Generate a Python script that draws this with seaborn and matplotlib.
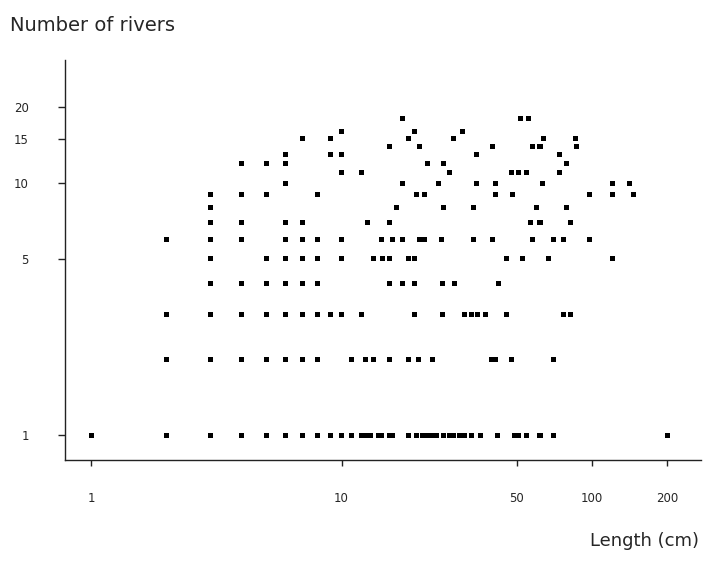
import pandas as pd
import matplotlib
matplotlib.use("Agg")
import matplotlib.pyplot as plt
from matplotlib.ticker import FixedLocator, NullLocator
import seaborn as sns

# lengths (cm) found in 1, 2, 3 ... rivers
rivers_1 = [1, 2, 3, 4, 5, 6, 7, 8, 9, 10, 11, 12, 12.5, 13, 14, 14.5, 15.5, 16,
            18.5, 20, 21, 22, 23, 24, 25.5, 27, 28, 29.5, 31, 33, 36, 42, 49, 51,
            55, 62, 70, 200]
rivers_2 = [2, 3, 4, 5, 6, 7, 8, 11, 12.5, 13.4, 15.5, 18.5, 20.3, 23, 39.8, 41.3,
            47.6, 70]
rivers_3 = [2, 3, 4, 5, 6, 7, 8, 9, 10, 12, 19.5, 25.4, 31, 33, 35, 37.5, 45.7,
            76.6, 82.4]
rivers_4 = [3, 4, 5, 6, 7, 8, 15.6, 17.5, 19.6, 25.3, 28.3, 42.5]
rivers_5 = [3, 5, 6, 7, 8, 10, 13.4, 14.6, 15.5, 18.5, 19.5, 45.7, 53, 67.3, 121]
rivers_6 = [2, 3, 4, 6, 7, 8, 10, 14.5, 16, 17.5, 20.5, 21.5, 25, 33.5, 40, 58,
            70, 77, 98]
rivers_7 = [3, 4, 6, 7, 12.7, 15.6, 57, 62, 82]
rivers_8 = [3, 16.5, 25.5, 33.5, 60, 79]
rivers_9 = [3, 4, 5, 8, 20, 21.5, 41, 48, 98, 121, 146]
rivers_10 = [6, 17.5, 24.4, 34.5, 41.3, 63.7, 121, 140.6]
rivers_11 = [10, 12, 27, 47.5, 51, 55, 74.5]
rivers_12 = [4, 5, 6, 22, 25.5, 79]
rivers_13 = [6, 9, 10, 34.5, 74.5]
rivers_14 = [15.5, 20.5, 40, 58, 62, 87]
rivers_15 = [7, 9, 18.5, 28, 64, 86]
rivers_16 = [10, 19.5, 30.5]
rivers_18 = [17.5, 52, 56]

by_count = {1: rivers_1, 2: rivers_2, 3: rivers_3, 4: rivers_4, 5: rivers_5,
            6: rivers_6, 7: rivers_7, 8: rivers_8, 9: rivers_9, 10: rivers_10,
            11: rivers_11, 12: rivers_12, 13: rivers_13, 14: rivers_14,
            15: rivers_15, 16: rivers_16, 18: rivers_18}

x_ticks = [1, 10, 50, 100, 200]
y_ticks = [1, 5, 10, 15, 20]

rows = [(length, n) for n, lengths in by_count.items() for length in lengths]
df = pd.DataFrame(rows, columns=["length", "rivers"])

sns.set_style("ticks")
plt.rcParams["font.family"] = ["DejaVu Sans"]

fig = plt.figure(figsize=(7.03, 5.61), dpi=100)
ax = fig.add_axes([0.0925, 0.18, 0.905, 0.713])

sns.scatterplot(data=df, x="length", y="rivers", marker="s", s=13,
                color="black", edgecolor="none", ax=ax)

ax.set_xscale("log")
ax.set_yscale("log")
ax.set_xlim(0.787, 273)
ax.set_ylim(0.796, 30.8)

ax.xaxis.set_major_locator(FixedLocator(x_ticks))
ax.xaxis.set_minor_locator(NullLocator())
ax.yaxis.set_major_locator(FixedLocator(y_ticks))
ax.yaxis.set_minor_locator(NullLocator())
ax.set_xticklabels([str(t) for t in x_ticks])
ax.set_yticklabels([str(t) for t in y_ticks])

ax.tick_params(axis="x", direction="out", length=4, pad=19, labelsize=8.5,
               width=1, color="#222222")
ax.tick_params(axis="y", direction="out", length=5, pad=21, labelsize=8.5,
               width=1, color="#222222")

for side in ["top", "right"]:
    ax.spines[side].set_visible(False)
for side in ["left", "bottom"]:
    ax.spines[side].set_color("#222222")
    ax.spines[side].set_linewidth(1)

ax.set_xlabel("")
ax.set_ylabel("")
fig.text(0.014, 0.955, "Number of rivers", fontsize=14, ha="left", va="center")
fig.text(0.995, 0.035, "Length (cm)", fontsize=13, ha="right", va="center")

fig.savefig("out.png", dpi=100)
